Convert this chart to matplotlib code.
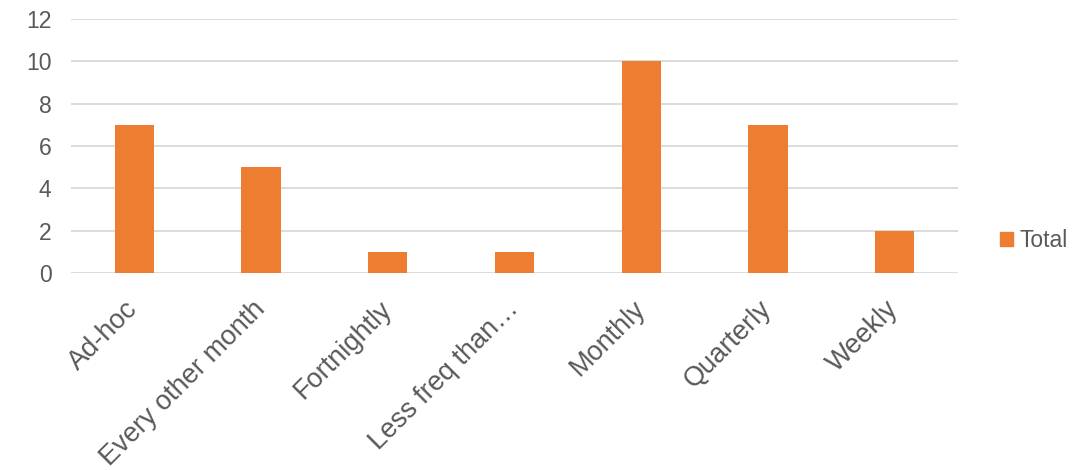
import matplotlib.pyplot as plt
from matplotlib.patches import Patch

categories = ["Ad-hoc", "Every other month", "Fortnightly", "Less freq than…",
              "Monthly", "Quarterly", "Weekly"]
totals = [7, 5, 1, 1, 10, 7, 2]

plt.rcParams['font.family'] = ['Liberation Sans', 'DejaVu Sans']
text_col = "#595959"
bar_col = "#ED7D31"

fig = plt.figure(figsize=(10.9, 4.7), dpi=100)
ax = fig.add_axes([0.065, 0.419, 0.814, 0.541])

x = range(len(categories))
ax.bar(x, totals, width=0.31, color=bar_col, zorder=3)

ax.set_xlim(-0.5, len(categories) - 0.5)
ax.set_ylim(0, 12)
ax.set_yticks(range(0, 13, 2))
ax.set_xticks(list(x))
ax.set_xticklabels(categories, rotation=45, ha="right", va="center",
                   rotation_mode="anchor", fontsize=19.5)
ax.tick_params(axis="both", length=0, colors=text_col)
ax.tick_params(axis="y", labelsize=16.5, pad=14)
ax.tick_params(axis="x", pad=23)
ax.grid(axis="y", color="#D9D9D9", linewidth=1.3, zorder=0)
for s in ax.spines.values():
    s.set_visible(False)

fig.legend(handles=[Patch(color=bar_col, label="Total")], loc="center left",
           bbox_to_anchor=(0.9174, 0.488), frameon=False, fontsize=16.5,
           borderaxespad=0, borderpad=0,
           handlelength=0.57, handleheight=0.57, handletextpad=0.27,
           labelcolor=text_col)

fig.savefig("out.png", dpi=100)
